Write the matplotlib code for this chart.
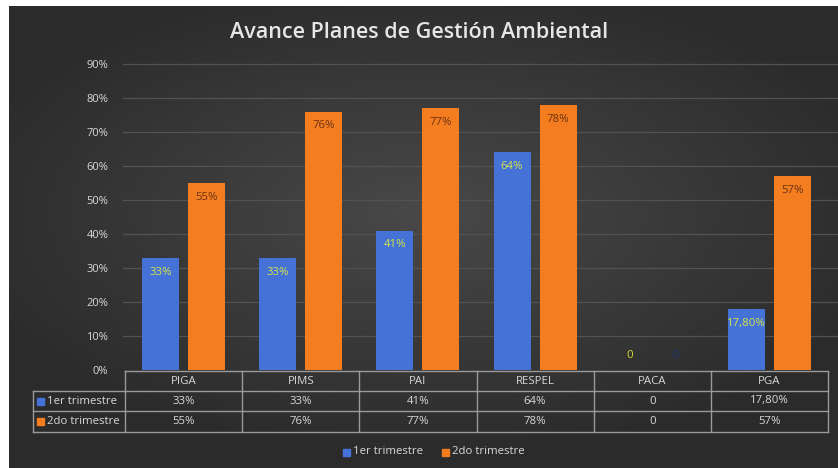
import matplotlib.pyplot as plt
import numpy as np

categories = ['PIGA', 'PIMS', 'PAI', 'RESPEL', 'PACA', 'PGA']
series_names = ['1er trimestre', '2do trimestre']
q1 = [33, 33, 41, 64, 0, 17.8]
q2 = [55, 76, 77, 78, 0, 57]
q1_text = ['33%', '33%', '41%', '64%', '0', '17,80%']
q2_text = ['55%', '76%', '77%', '78%', '0', '57%']
yticks = [0, 10, 20, 30, 40, 50, 60, 70, 80, 90]

BLUE = '#4472d6'
ORANGE = '#f47d20'
TXT = '#d9d9d9'
LINE = '#9a9a9a'
FONT = 'Open Sans'

W, H = 838, 468
fig = plt.figure(figsize=(W / 100, H / 100), dpi=100)
fig.patch.set_facecolor('white')

# dark background with radial gradient, white strip at top/left
bg = fig.add_axes([9 / W, 0, 1 - 9 / W, 1 - 6 / H])
yy, xx = np.mgrid[-1:1:200j, -1:1:300j]
r = np.sqrt((xx * 0.9) ** 2 + ((yy + 0.1) * 1.0) ** 2)
shade = np.clip(0.285 - 0.11 * r, 0.17, 0.285)
bg.imshow(np.dstack([shade, shade, shade]), aspect='auto', extent=[0, 1, 0, 1])
bg.set_axis_off()


def fx(px):
    return px / W


def fy(py):
    return 1 - py / H


y0, y90 = 370, 64
x_left, x_right = 125, 828
col_w = (x_right - x_left) / len(categories)

ax = fig.add_axes([fx(x_left), fy(y0), fx(x_right) - fx(x_left), fy(y90) - fy(y0)])
ax.patch.set_alpha(0)
ax.set_xlim(0, len(categories))
ax.set_ylim(0, 90)
x = np.arange(len(categories)) + 0.5
bw = 37 / col_w
off = 23 / col_w
ax.bar(x - off, q1, bw, color=BLUE, zorder=3)
ax.bar(x + off, q2, bw, color=ORANGE, zorder=3)
for t in yticks:
    if t > 0:
        ax.axhline(t, color='#525252', lw=0.9, zorder=1, xmin=-0.003, xmax=1.02, clip_on=False)
ax.set_yticks(yticks)
ax.set_yticklabels([f'{t}%' for t in yticks], color=TXT, fontsize=8, family=FONT)
ax.tick_params(axis='y', length=0, pad=12)
ax.set_xticks([])
for s in ax.spines.values():
    s.set_visible(False)

for i in range(len(categories)):
    if q1[i] > 0:
        ax.text(x[i] - off, q1[i] - 4.2, q1_text[i], ha='center', va='center',
                color='#d8e34a', fontsize=8.2, family=FONT, zorder=4)
    else:
        ax.text(x[i] - off, 4.2, q1_text[i], ha='center', va='center',
                color='#d8d83a', fontsize=8.2, family=FONT, zorder=4)
    if q2[i] > 0:
        ax.text(x[i] + off, q2[i] - 4.2, q2_text[i], ha='center', va='center',
                color='#6b3312', fontsize=8.2, family=FONT, zorder=4)
    else:
        ax.text(x[i] + off, 4.2, q2_text[i], ha='center', va='center',
                color='#1f3a78', fontsize=8.2, family=FONT, zorder=4)

# title
fig.text(0.5, fy(32), 'Avance Planes de Gestión Ambiental', ha='center', va='center',
         color='#e6e6e6', fontsize=15.5, fontweight='semibold', family=FONT)

# data table drawn in pixel coordinates
ov = fig.add_axes([0, 0, 1, 1])
ov.set_xlim(0, W)
ov.set_ylim(H, 0)
ov.set_axis_off()
ov.patch.set_alpha(0)

r0, r1, r2, r3 = 371, 391, 411, 432
lab_left = 33
lw = 1.0
ov.plot([x_left, x_right], [r0, r0], color=LINE, lw=lw)
for ry in (r1, r2, r3):
    ov.plot([lab_left, x_right], [ry, ry], color=LINE, lw=lw)
ov.plot([lab_left, lab_left], [r1, r3], color=LINE, lw=lw)
for i in range(len(categories) + 1):
    xc = x_left + i * col_w
    ov.plot([xc, xc], [r0, r3], color=LINE, lw=lw)

fs = 8.2
for i, c in enumerate(categories):
    cx = x_left + (i + 0.5) * col_w
    ov.text(cx, (r0 + r1) / 2, c, ha='center', va='center', color=TXT, fontsize=fs, family=FONT)
    ov.text(cx, (r1 + r2) / 2, q1_text[i], ha='center', va='center', color=TXT, fontsize=fs, family=FONT)
    ov.text(cx, (r2 + r3) / 2, q2_text[i], ha='center', va='center', color=TXT, fontsize=fs, family=FONT)

for ry, name, col in (((r1 + r2) / 2, series_names[0], BLUE), ((r2 + r3) / 2, series_names[1], ORANGE)):
    ov.add_patch(plt.Rectangle((37, ry - 3.5), 7, 7, color=col))
    ov.text(47, ry, name, ha='left', va='center', color=TXT, fontsize=fs, family=FONT)

# legend
ly = 452
ov.add_patch(plt.Rectangle((343, ly - 3.5), 7, 7, color=BLUE))
ov.text(353, ly, series_names[0], ha='left', va='center', color=TXT, fontsize=fs, family=FONT)
ov.add_patch(plt.Rectangle((442, ly - 3.5), 7, 7, color=ORANGE))
ov.text(452, ly, series_names[1], ha='left', va='center', color=TXT, fontsize=fs, family=FONT)

fig.savefig('out.png', dpi=100, facecolor=fig.get_facecolor())
